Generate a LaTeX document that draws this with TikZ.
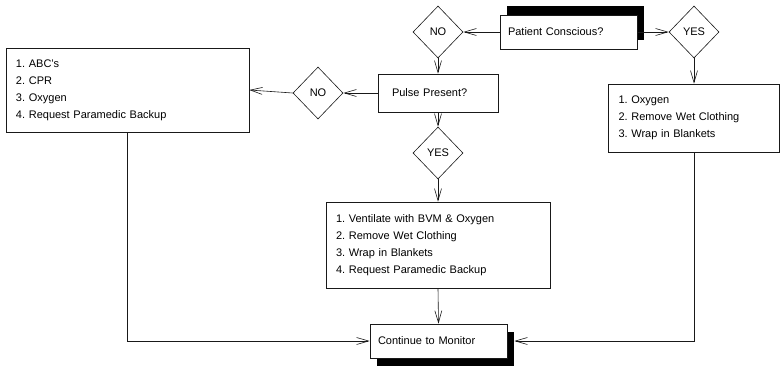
\documentclass[tikz,border=0pt]{standalone}
\usepackage{fontspec}
\setmainfont{Liberation Sans}
\usetikzlibrary{arrows.meta, shapes.geometric, shadows}
\definecolor{lineA}{RGB}{25, 25, 25}

\tikzset{
  box/.style={draw=lineA, fill=white, line width=0.6pt, align=left, inner xsep=10pt, inner ysep=0pt, font=\fontsize{11}{17}\selectfont\frenchspacing},
  decision/.style={diamond, draw=lineA, fill=white, line width=0.6pt, inner sep=0pt, minimum width=50pt, minimum height=52pt, font=\fontsize{11}{13}\selectfont},
  arr/.style={draw=lineA, line width=0.6pt, -{Straight Barb[length=12pt, width=7pt]}},
}

\begin{document}
\begin{tikzpicture}[x=1pt, y=-1pt]
  \useasboundingbox (0,0) rectangle (781,365);

  \coordinate (P) at (568.5, 32);
  \coordinate (N1) at (438, 32);
  \coordinate (Y1) at (694, 32);
  \coordinate (Q) at (438, 93);
  \coordinate (N2) at (318, 93);
  \coordinate (L) at (127.5, 90);
  \coordinate (Y2) at (438, 153);
  \coordinate (M) at (438, 245);
  \coordinate (R) at (694, 118);
  \coordinate (C) at (438.5, 341);

  \node[box, text width=121pt, inner xsep=8pt, minimum height=34pt,
        drop shadow={shadow xshift=7pt, shadow yshift=9pt, fill=black, opacity=1}] (patient) at (P) {Patient Conscious?};
  \node[decision] (noA) at (N1) {NO};
  \node[decision] (yesA) at (Y1) {YES};
  \node[box, text width=92pt, inner xsep=14pt, minimum height=38pt] (pulse) at (Q) {Pulse Present?};
  \node[decision] (noB) at (N2) {NO};
  \node[box, text width=223pt, minimum height=84pt] (abc) at (L)
    {1. ABC's\\ 2. CPR\\ 3. Oxygen\\ 4. Request Paramedic Backup};
  \node[decision] (yesB) at (Y2) {YES};
  \node[box, text width=204pt, minimum height=86pt] (vent) at (M)
    {1. Ventilate with BVM \& Oxygen\\ 2. Remove Wet Clothing\\ 3. Wrap in Blankets\\ 4. Request Paramedic Backup};
  \node[box, text width=151pt, minimum height=68pt] (oxy) at (R)
    {1. Oxygen\\ 2. Remove Wet Clothing\\ 3. Wrap in Blankets};
  \node[box, text width=121pt, inner xsep=8pt, minimum height=34pt,
        drop shadow={shadow xshift=7pt, shadow yshift=-8pt, fill=black, opacity=1}] (cont) at (C) {Continue to Monitor};

  \path[arr] (patient.west) -- (noA.east);
  \path[arr] (patient.east) -- (yesA.west);
  \path[arr] (noA.south) -- (pulse.north);
  \path[arr] (pulse.west) -- (noB.east);
  \path[arr] (noB.west) -- (abc.east);
  \path[arr] (pulse.south) -- (yesB.north);
  \path[arr] (yesB.south) -- (vent.north);
  \path[arr] (yesA.south) -- (oxy.north);
  \path[arr] (vent.south) -- (cont.north);
  \path[arr] (abc.south) |- (cont.west);
  \path[arr] (oxy.south) |- ([xshift=7pt]cont.east);
\end{tikzpicture}
\end{document}
